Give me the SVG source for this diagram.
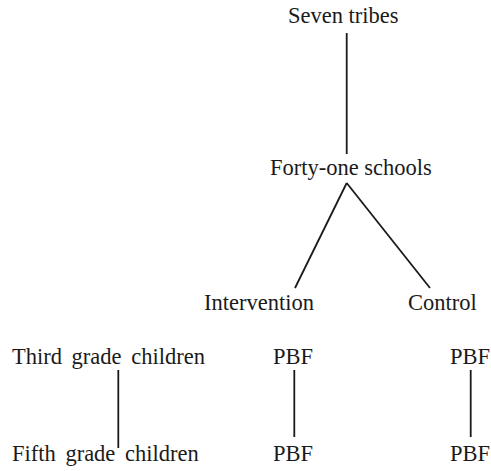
<svg xmlns="http://www.w3.org/2000/svg" width="491" height="471" viewBox="0 0 491 471">
<style>
text{font-family:"Liberation Serif","Times New Roman",serif;font-size:22.5px;fill:#1a1a1a}
.w{word-spacing:4px}
.c line{stroke:#1a1a1a;stroke-width:1.8;fill:none}
</style>
<rect width="491" height="471" fill="#fff"/>
<g class="c" id="connectors">
<line x1="346.7" y1="33" x2="346.7" y2="154"/>
<line x1="346.7" y1="183" x2="295" y2="288"/>
<line x1="346.7" y1="183" x2="430" y2="288"/>
<line x1="118.3" y1="370" x2="118.3" y2="448"/>
<line x1="294.3" y1="370" x2="294.3" y2="437"/>
<line x1="470.7" y1="370" x2="470.7" y2="437"/>
</g>
<g id="seven"><text x="288" y="23">Seven tribes</text></g>
<g id="schools"><text x="270" y="175">Forty-one schools</text></g>
<g id="intervention"><text x="204" y="310">Intervention</text></g>
<g id="control"><text x="408" y="310">Control</text></g>
<g id="third"><text class="w" x="12" y="364">Third grade children</text></g>
<g id="fifth"><text class="w" x="12" y="461">Fifth grade children</text></g>
<g id="pbf1"><text x="273" y="364">PBF</text></g>
<g id="pbf2"><text x="273" y="461">PBF</text></g>
<g id="pbf3"><text x="450" y="364">PBF</text></g>
<g id="pbf4"><text x="450" y="461">PBF</text></g>
</svg>
